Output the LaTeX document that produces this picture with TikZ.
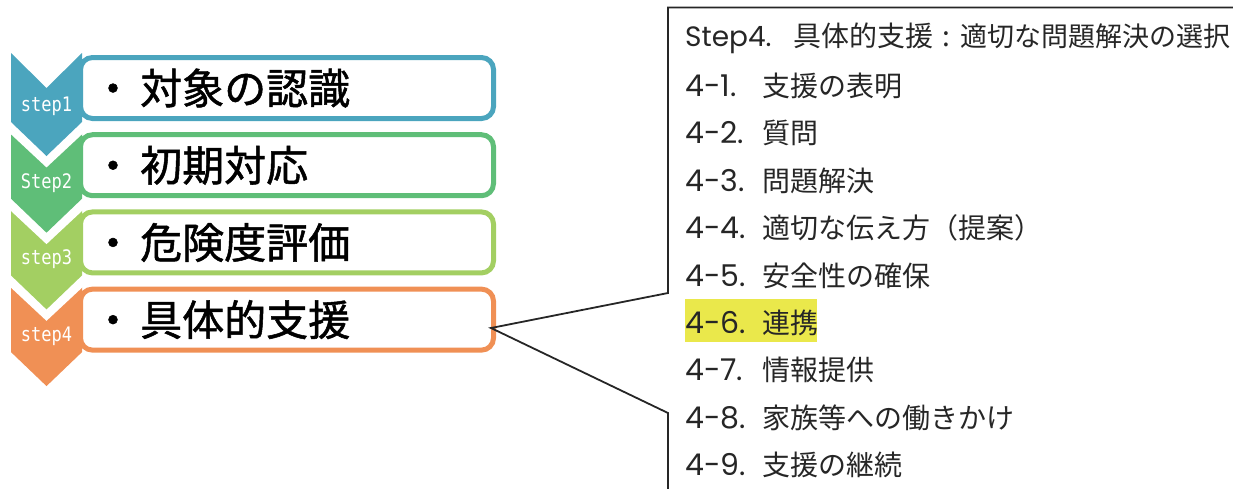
\documentclass[tikz,border=0pt]{standalone}
\usepackage{fontspec}
\newfontfamily\jp{Noto Sans CJK JP}
\newfontfamily\jpb[FakeBold=1.2]{Noto Sans CJK JP}
\newfontfamily\mono{DejaVu Sans Mono}
\newfontfamily\pop{Poppins}
\definecolor{c1}{HTML}{4BA5BE}
\definecolor{c2}{HTML}{5FBE78}
\definecolor{c3}{HTML}{A3CF62}
\definecolor{c4}{HTML}{F09055}
\definecolor{hl}{HTML}{EAE84B}
\newcommand{\pre}[3]{\makebox[#1][l]{\pop\fontsize{#2}{#2}\selectfont #3}}
\begin{document}
\begin{tikzpicture}[x=1pt,y=-1pt,
  stepbox/.style={draw=#1, line width=5pt, rounded corners=12pt, fill=white,
    minimum width=413pt, minimum height=61pt, inner sep=0pt},
  bigtext/.style={font=\jpb\fontsize{42}{42}\selectfont, anchor=base west, inner sep=0pt},
  bigdot/.style={font=\jpb\fontsize{42}{42}\selectfont, anchor=base, inner sep=0pt},
  steplabel/.style={font=\mono\fontsize{20}{20}\selectfont, text=white, inner sep=0pt},
  itemtext/.style={font=\jp\fontsize{28}{28}\selectfont, anchor=base west, inner sep=0pt, text=black!85},
  callout/.style={draw=black!85, line width=1.8pt, line join=miter}]
\useasboundingbox (0,0) rectangle (1233,488);
% boxes
\foreach \i/\c in {1/c1,2/c2,3/c3,4/c4}{
  \node[stepbox=\c] (box\i) at (287, {88+77.2*(\i-1)}) {};
}
% chevrons
\foreach \i/\c/\lab in {1/c1/step1,2/c2/Step2,3/c3/step3,4/c4/step4}{
  \pgfmathsetmacro{\t}{53+76.7*(\i-1)}
  \fill[\c] (11,\t) -- (46.5,\t+35) -- (82,\t) -- (82,\t+69) -- (46.5,\t+103) -- (11,\t+69) -- cycle;
  \ifnum\i>1
    \draw[white, line width=4pt, line join=miter] (9,\t) -- (46.5,\t+35) -- (84,\t);
  \fi
  \node[steplabel] (lab\i) at (46.5,\t+53) {\scalebox{0.85}[1]{\lab}};
}
% box texts
\foreach \i/\txt in {1/対象の認識,2/初期対応,3/危険度評価,4/具体的支援}{
  \pgfmathsetmacro{\cy}{88+77.2*(\i-1)}
  \node[bigdot] (dot\i) at (113,\cy+16) {・};
  \node[bigtext] (txt\i) at (140,\cy+16) {\txt};
}
% highlight
\fill[hl] (685,299) rectangle (817,342);
% list
\node[itemtext] (t0) at (685,46.5) {\pre{108pt}{28}{Step4.}具体的支援\makebox[27pt][c]{:}{\fontsize{27}{27}\selectfont 適切な問題解決の選択}};
\foreach \k/\txt in {1/支援の表明,2/質問,3/問題解決,4/適切な伝え方（提案）,5/安全性の確保,6/連携,7/情報提供,8/家族等への働きかけ,9/支援の継続}{
  \node[itemtext] (t\k) at (685,{86+47.4*(\k-1)+10.5}) {\pre{77pt}{30}{4-\k.}\txt};
}
% callout
\coordinate (ctr) at (1240,7.5);
\coordinate (ctl) at (668,7.5);
\coordinate (cu) at (668,293);
\coordinate (tip) at (491,328);
\coordinate (cd) at (668,413);
\coordinate (cb) at (668,495);
\draw[callout] (ctr) -- (ctl) -- (cu) -- (tip) -- (cd) -- (cb);
\end{tikzpicture}
\end{document}
